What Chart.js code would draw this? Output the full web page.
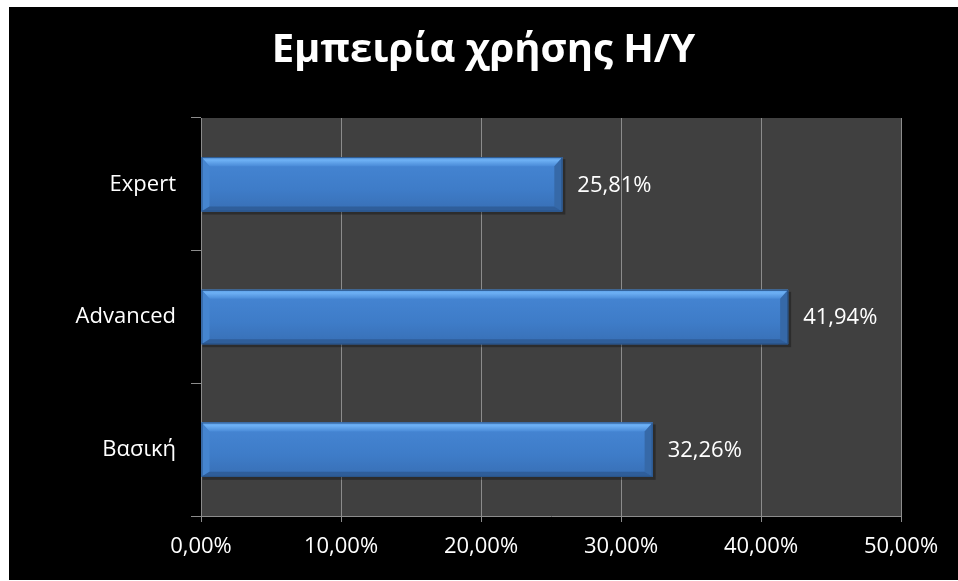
<!DOCTYPE html>
<html>
<head>
<meta charset="utf-8">
<script src="https://cdn.jsdelivr.net/npm/chart.js@4.4.0/dist/chart.umd.min.js"></script>
<style>
  html, body { margin: 0; padding: 0; background: #ffffff; }
  #box { position: absolute; left: 9px; top: 7px; width: 949px; height: 573px; background: #000000; }
</style>
</head>
<body>
<div id="box"><canvas id="expChart" width="949" height="573"></canvas></div>
<script>
var levels = ['Expert', 'Advanced', 'Βασική'];
var shares = [25.81, 41.94, 32.26];
var tickSteps = [0, 10, 20, 30, 40, 50];

function pct(v) {
    return v.toFixed(2).replace('.', ',') + '%';
}

// grey plot area behind the bars
var plotBg = {
    id: 'plotBg',
    beforeDraw: function (chart) {
        var a = chart.chartArea, c = chart.ctx;
        c.save();
        c.fillStyle = '#404040';
        c.fillRect(a.left, a.top, a.right - a.left, a.bottom - a.top);
        c.restore();
    }
};

// bevelled look on top of each bar, plus the value label
var bevel = {
    id: 'bevel',
    afterDatasetsDraw: function (chart) {
        var c = chart.ctx;
        var meta = chart.getDatasetMeta(0);
        meta.data.forEach(function (bar, i) {
            var L = bar.base, R = bar.x, T = bar.y - bar.height / 2, B = bar.y + bar.height / 2;
            var bt = 9, bs = 8, bb = 5;
            c.save();
            // soft drop shadow
            c.fillStyle = 'rgba(0,0,0,0.3)';
            c.fillRect(L + 1, T + 2, R - L + 2, B - T + 1);
            // face
            var g = c.createLinearGradient(0, T, 0, B);
            g.addColorStop(0, '#4686d4');
            g.addColorStop(0.6, '#3e7cc8');
            g.addColorStop(1, '#386fb5');
            c.fillStyle = g;
            c.fillRect(L, T, R - L, B - T);
            // top edge
            var gt = c.createLinearGradient(0, T, 0, T + bt);
            gt.addColorStop(0, '#5c9fe8');
            gt.addColorStop(0.35, '#6db0f4');
            gt.addColorStop(1, '#4a8bd8');
            c.fillStyle = gt;
            c.beginPath();
            c.moveTo(L, T); c.lineTo(R, T); c.lineTo(R - bs, T + bt); c.lineTo(L + bs, T + bt);
            c.closePath(); c.fill();
            // left edge
            c.fillStyle = '#4585d0';
            c.beginPath();
            c.moveTo(L, T); c.lineTo(L + bs, T + bt); c.lineTo(L + bs, B - bb); c.lineTo(L, B);
            c.closePath(); c.fill();
            // right edge
            c.fillStyle = '#3669a8';
            c.beginPath();
            c.moveTo(R, T); c.lineTo(R - bs, T + bt); c.lineTo(R - bs, B - bb); c.lineTo(R, B);
            c.closePath(); c.fill();
            // bottom edge
            c.fillStyle = '#2f5e9a';
            c.beginPath();
            c.moveTo(L, B); c.lineTo(R, B); c.lineTo(R - bs, B - bb); c.lineTo(L + bs, B - bb);
            c.closePath(); c.fill();
            c.strokeStyle = '#2a5488';
            c.lineWidth = 1;
            c.strokeRect(L + 0.5, T + 0.5, R - L - 1, B - T - 1);
            // value label
            c.fillStyle = '#ffffff';
            c.font = '22px "Open Sans"';
            c.textAlign = 'left';
            c.textBaseline = 'middle';
            c.fillText(pct(shares[i]), R + 15, bar.y + 1);
            c.restore();
        });
    }
};

var ctx = document.getElementById('expChart').getContext('2d');
var expChart = new Chart(ctx, {
    type: 'bar',
    data: {
        labels: levels,
        datasets: [{
            data: shares,
            backgroundColor: '#3e7cc8',
            borderWidth: 0,
            categoryPercentage: 1,
            barPercentage: 0.41
        }]
    },
    options: {
        indexAxis: 'y',
        responsive: false,
        animation: false,
        layout: { padding: 0 },
        plugins: {
            legend: { display: false },
            tooltip: { enabled: false },
            title: {
                display: true,
                text: 'Εμπειρία χρήσης Η/Υ',
                color: '#ffffff',
                font: { family: 'Open Sans', size: 40, weight: 'bold' },
                padding: { top: 20, bottom: 43 }
            }
        },
        scales: {
            x: {
                min: 0,
                max: 50,
                afterBuildTicks: function (scale) {
                    scale.ticks = tickSteps.map(function (v) { return { value: v }; });
                },
                afterFit: function (scale) { scale.height = 64; },
                grid: { color: '#8c8c8c', lineWidth: 1, tickLength: 6, drawTicks: true },
                border: { color: '#8c8c8c' },
                ticks: {
                    color: '#ffffff',
                    padding: 12,
                    font: { family: 'Open Sans', size: 22 },
                    callback: function (v) { return pct(v); }
                }
            },
            y: {
                grid: { drawOnChartArea: false, color: '#8c8c8c', tickLength: 10 },
                border: { color: '#8c8c8c' },
                afterFit: function (scale) { scale.width = 192; },
                ticks: {
                    color: '#ffffff',
                    padding: 15,
                    font: { family: 'Open Sans', size: 22 }
                }
            },
            // empty right-hand strip so the title stays centred on the whole box
            yRight: {
                type: 'category',
                position: 'right',
                grid: { display: false },
                border: { display: false },
                ticks: { display: false },
                afterFit: function (scale) { scale.width = 57; }
            }
        }
    },
    plugins: [plotBg, bevel]
});
</script>
</body>
</html>
